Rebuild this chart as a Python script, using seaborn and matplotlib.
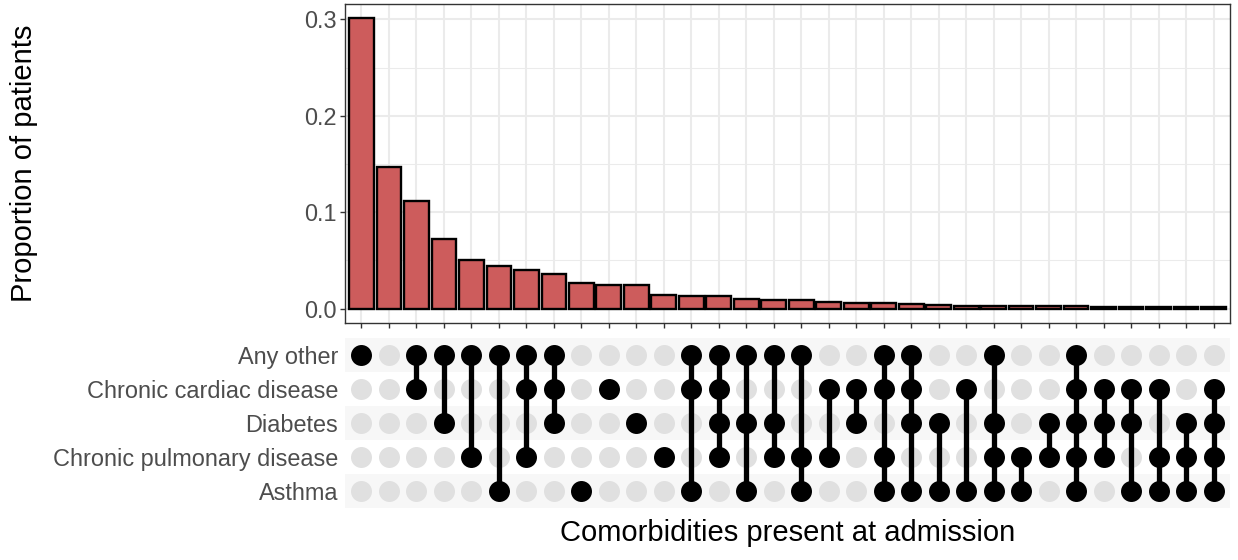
import matplotlib
matplotlib.use("Agg")
import matplotlib.pyplot as plt
from matplotlib.ticker import MultipleLocator
import numpy as np
import pandas as pd
import seaborn as sns

# Comorbidity sets, listed top to bottom in the matrix
set_names = [
    "Any other",
    "Chronic cardiac disease",
    "Diabetes",
    "Chronic pulmonary disease",
    "Asthma",
]

# Each intersection, ordered by decreasing frequency
combinations = [
    ("Any other",),
    (),
    ("Any other", "Chronic cardiac disease"),
    ("Any other", "Diabetes"),
    ("Any other", "Chronic pulmonary disease"),
    ("Any other", "Asthma"),
    ("Any other", "Chronic cardiac disease", "Chronic pulmonary disease"),
    ("Any other", "Chronic cardiac disease", "Diabetes"),
    ("Asthma",),
    ("Chronic cardiac disease",),
    ("Diabetes",),
    ("Chronic pulmonary disease",),
    ("Any other", "Chronic cardiac disease", "Asthma"),
    ("Any other", "Chronic cardiac disease", "Diabetes", "Chronic pulmonary disease"),
    ("Any other", "Diabetes", "Asthma"),
    ("Any other", "Diabetes", "Chronic pulmonary disease"),
    ("Any other", "Chronic pulmonary disease", "Asthma"),
    ("Chronic cardiac disease", "Chronic pulmonary disease"),
    ("Chronic cardiac disease", "Diabetes"),
    ("Any other", "Chronic cardiac disease", "Chronic pulmonary disease", "Asthma"),
    ("Any other", "Chronic cardiac disease", "Diabetes", "Asthma"),
    ("Diabetes", "Asthma"),
    ("Chronic cardiac disease", "Asthma"),
    ("Any other", "Diabetes", "Chronic pulmonary disease", "Asthma"),
    ("Chronic pulmonary disease", "Asthma"),
    ("Diabetes", "Chronic pulmonary disease"),
    ("Any other", "Chronic cardiac disease", "Diabetes", "Chronic pulmonary disease", "Asthma"),
    ("Chronic cardiac disease", "Diabetes", "Chronic pulmonary disease"),
    ("Chronic cardiac disease", "Diabetes", "Asthma"),
    ("Chronic cardiac disease", "Chronic pulmonary disease", "Asthma"),
    ("Diabetes", "Chronic pulmonary disease", "Asthma"),
    ("Chronic cardiac disease", "Diabetes", "Chronic pulmonary disease", "Asthma"),
]

# Proportion of patients in each intersection
proportions = [
    0.301, 0.147, 0.112, 0.072, 0.050, 0.044, 0.040, 0.036,
    0.026, 0.024, 0.024, 0.0145, 0.013, 0.013, 0.0095, 0.0093,
    0.0093, 0.0072, 0.0062, 0.0062, 0.0045, 0.0038, 0.0027, 0.0026,
    0.0025, 0.0025, 0.0024, 0.0016, 0.0015, 0.0015, 0.0014, 0.0013,
]

y_ticks = [0.0, 0.1, 0.2, 0.3]
y_label = "Proportion of patients"
x_label = "Comorbidities present at admission"

sns.set_theme(style="white")
plt.rcParams["font.family"] = ["Liberation Sans", "DejaVu Sans"]

W, H = 1238, 560
fig = plt.figure(figsize=(W / 100, H / 100), dpi=100)


def px_axes(x0, y0, x1, y1):
    return fig.add_axes([x0 / W, 1 - y1 / H, (x1 - x0) / W, (y1 - y0) / H])


ax_bar = px_axes(345, 4, 1230, 323)
ax_mat = px_axes(345, 338, 1230, 508)

n = len(combinations)
xpos = np.arange(n)
xlim = (-0.6, n - 1 + 0.6)

text_grey = "#4D4D4D"
axis_dark = "#333333"
grid_col = "#EBEBEB"

# ---- bar panel ----
bars = pd.DataFrame({"combo": [str(i) for i in xpos], "prop": proportions})
sns.barplot(
    data=bars, x="combo", y="prop", order=list(bars["combo"]),
    color="#CD5C5C", saturation=1, edgecolor="black", linewidth=1.7,
    width=0.9, ax=ax_bar, zorder=3,
)
ax_bar.set_xlim(*xlim)
ax_bar.set_ylim(-0.015, 0.316)
ax_bar.set_yticks(y_ticks)
ax_bar.set_yticklabels([f"{v:.1f}" for v in y_ticks])
ax_bar.yaxis.set_minor_locator(MultipleLocator(0.05))
ax_bar.set_xticks(xpos)
ax_bar.set_xticklabels([])
ax_bar.set_xlabel("")
ax_bar.set_ylabel("")
ax_bar.set_axisbelow(True)
ax_bar.grid(True, which="major", color=grid_col, linewidth=1.5)
ax_bar.grid(True, which="minor", axis="y", color=grid_col, linewidth=0.75)
ax_bar.grid(False, which="minor", axis="x")
for sp in ax_bar.spines.values():
    sp.set_visible(True)
    sp.set_color(axis_dark)
    sp.set_linewidth(1.0)
ax_bar.tick_params(axis="both", which="major", direction="out", length=3.6,
                   width=1.0, color=axis_dark, labelsize=16.9,
                   labelcolor=text_grey, pad=2.2, bottom=True, left=True)
ax_bar.tick_params(axis="both", which="minor", length=0)

# ---- intersection matrix ----
ax_mat.set_xlim(*xlim)
ax_mat.set_ylim(len(set_names) - 0.5, -0.5)
for r in range(len(set_names)):
    if r % 2 == 0:
        ax_mat.axhspan(r - 0.5, r + 0.5, color="#F7F7F7", zorder=0, lw=0)

rows = []
for i, combo in enumerate(combinations):
    for r, name in enumerate(set_names):
        rows.append({"x": i, "y": r, "present": name in combo})
dots = pd.DataFrame(rows)

sns.scatterplot(
    data=dots[~dots["present"]], x="x", y="y", color="#E0E0E0",
    s=228, linewidth=0, ax=ax_mat, zorder=2, legend=False,
)
for i, combo in enumerate(combinations):
    members = [set_names.index(c) for c in combo]
    if len(members) > 1:
        ax_mat.vlines(i, min(members), max(members), color="black",
                      linewidth=3.8, zorder=3)
sns.scatterplot(
    data=dots[dots["present"]], x="x", y="y", color="black",
    s=228, linewidth=0, ax=ax_mat, zorder=4, legend=False,
)
ax_mat.set_xlim(*xlim)
ax_mat.set_ylim(len(set_names) - 0.5, -0.5)
ax_mat.set_yticks(range(len(set_names)))
ax_mat.set_yticklabels(set_names)
ax_mat.set_xticks([])
ax_mat.set_xlabel("")
ax_mat.set_ylabel("")
ax_mat.tick_params(axis="y", length=0, pad=5, labelsize=16.9,
                   labelcolor=text_grey)
for sp in ax_mat.spines.values():
    sp.set_visible(False)

# ---- titles ----
fig.text(787.5 / W, 1 - 533 / H, x_label, ha="center", va="center",
         fontsize=21, color="black")
fig.text(24 / W, 1 - 163.5 / H, y_label, ha="center", va="center",
         rotation=90, fontsize=21, color="black")

fig.savefig("out.png", dpi=100)
